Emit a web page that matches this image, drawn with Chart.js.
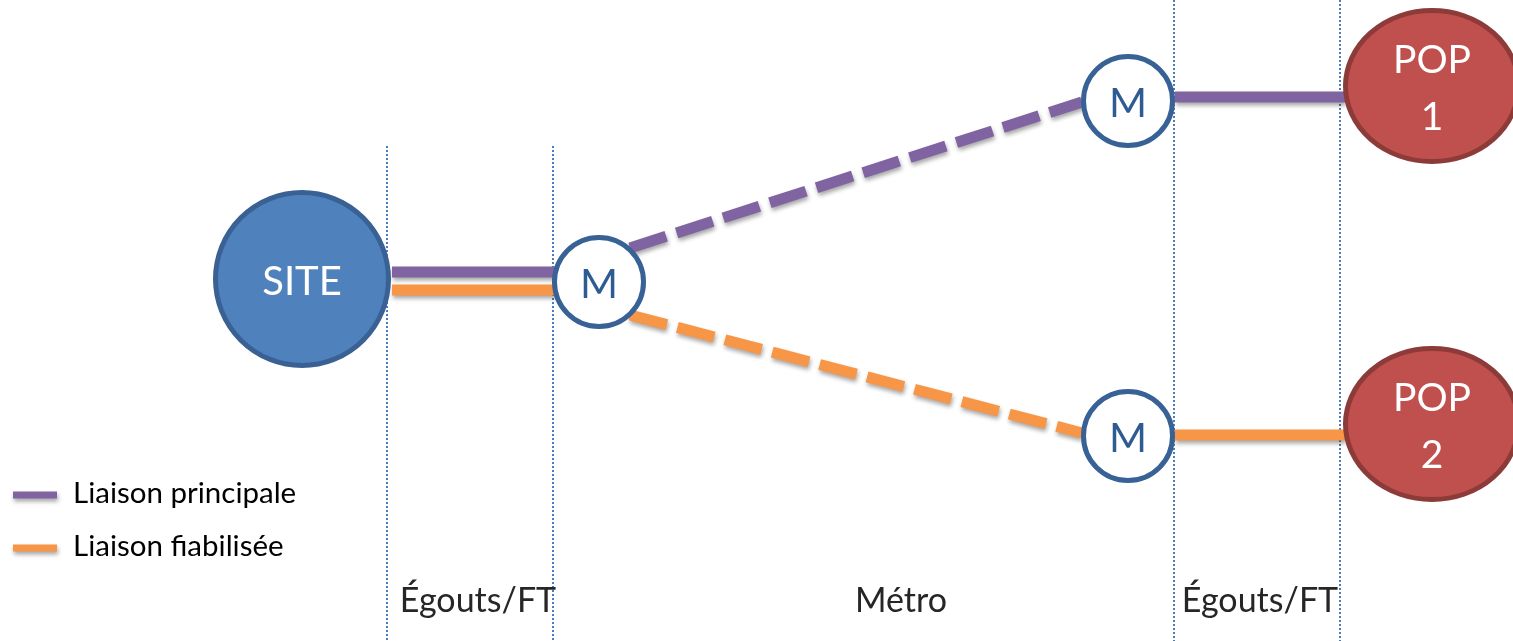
<!DOCTYPE html>
<html>
<head>
<meta charset="utf-8">
<script src="https://cdn.jsdelivr.net/npm/chart.js@4.4.1/dist/chart.umd.min.js"></script>
<style>
    html, body { margin: 0; padding: 0; background: #fff; overflow: hidden; }
    #wrap { width: 1513px; height: 641px; }
</style>
</head>
<body>
<div id="wrap"><canvas id="myChart" width="1513" height="641"></canvas></div>
<script>
// sections along the route (bottom labels) and their borders
const sectionLabels = ['Égouts/FT', 'Métro', 'Égouts/FT'];
const sectionCenterX = [478, 901, 1260];
const boundaryX = [387, 553, 1174, 1340];
const boundaryTopY = [146, 146, 0, 0];

// nodes
const siteX = [302];
const siteY = [279];
const siteLabels = ['SITE'];
const muxX = [599, 1128, 1128];
const muxY = [282, 101, 436];
const muxLabels = ['M', 'M', 'M'];
const popX = [1432, 1432];
const popY = [86, 424];
const popLabels = [['POP', '1'], ['POP', '2']];

// links (null = break between pieces)
const principalX = [392, 555, 630, 1082, 1175, 1345];
const principalY = [272, 272, null, 248, 102, null, 97, 97];
const fiabiliseeX = [392, 555, 630, 1082, 1175, 1345];
const fiabiliseeY = [290, 290, null, 315, 433, null, 435, 435];
const seriesLabels = ['Liaison principale', 'Liaison fiabilisée'];
const seriesColors = ['#8064a2', '#f79646'];

const FONT = 'Lato, "Noto Sans", sans-serif';

makePath = (xs, ys) => {
    let pts = [];
    let i = 0;
    ys.forEach((y) => {
        if (y === null) {
            pts.push({x: xs[Math.max(i - 1, 0)] + 1, y: null});
        } else {
            pts.push({x: xs[i], y: y});
            i++;
        }
    });
    return pts;
};

// dashed where the link runs through the Métro section
inMetro = (ctx) => {
    return ctx.p0.parsed.x >= boundaryX[1] && ctx.p1.parsed.x <= boundaryX[2] ? [38, 11] : undefined;
};

makeEllipse = (rx, ry, fill, stroke, bw) => {
    const c = document.createElement('canvas');
    c.width = rx * 2;
    c.height = ry * 2;
    const g = c.getContext('2d');
    g.beginPath();
    g.ellipse(rx, ry, rx - bw / 2, ry - bw / 2, 0, 0, Math.PI * 2);
    g.fillStyle = fill;
    g.fill();
    g.lineWidth = bw;
    g.strokeStyle = stroke;
    g.stroke();
    return c;
};

let datasets = [];

datasets.push({
    label: 'site',
    data: siteX.map((x, i) => ({x: x, y: siteY[i]})),
    pointRadius: 86.5,
    pointBackgroundColor: '#4f81bd',
    pointBorderColor: '#3a6194',
    pointBorderWidth: 5,
    clip: false,
    order: 0
});
datasets.push({
    label: 'mux',
    data: muxX.map((x, i) => ({x: x, y: muxY[i]})),
    pointRadius: 44.5,
    pointBackgroundColor: '#ffffff',
    pointBorderColor: '#386295',
    pointBorderWidth: 5,
    clip: false,
    order: 0
});
datasets.push({
    label: 'pop',
    data: popX.map((x, i) => ({x: x, y: popY[i]})),
    pointStyle: makeEllipse(89, 78, '#c0504d', '#8c3b39', 5),
    clip: false,
    order: 0
});

[[principalX, principalY], [fiabiliseeX, fiabiliseeY]].forEach((s, idx) => {
    datasets.push({
        label: seriesLabels[idx],
        data: makePath(s[0], s[1]),
        showLine: true,
        spanGaps: false,
        borderColor: seriesColors[idx],
        borderWidth: 11,
        borderCapStyle: 'butt',
        pointRadius: 0,
        segment: { borderDash: inMetro },
        shadow: true,
        clip: false,
        order: 1
    });
});

boundaryX.forEach((bx, i) => {
    datasets.push({
        label: 'border',
        data: [{x: bx, y: boundaryTopY[i]}, {x: bx, y: 641}],
        showLine: true,
        borderColor: '#4a7ebb',
        borderWidth: 2,
        borderDash: [2, 2],
        pointRadius: 0,
        clip: false,
        order: 2
    });
});

const shadowPlugin = {
    id: 'shadow',
    beforeDatasetDraw(chart, args) {
        if (!chart.data.datasets[args.index].shadow) return;
        const ctx = chart.ctx;
        ctx.save();
        ctx.shadowColor = 'rgba(0,0,0,0.35)';
        ctx.shadowBlur = 4;
        ctx.shadowOffsetX = 1;
        ctx.shadowOffsetY = 3;
    },
    afterDatasetDraw(chart, args) {
        if (chart.data.datasets[args.index].shadow) chart.ctx.restore();
    }
};

const textPlugin = {
    id: 'texts',
    afterDatasetsDraw(chart) {
        const ctx = chart.ctx;
        const sx = chart.scales.x, sy = chart.scales.y;
        ctx.save();
        ctx.textAlign = 'center';
        ctx.textBaseline = 'alphabetic';

        ctx.fillStyle = '#ffffff';
        ctx.font = '40px ' + FONT;
        siteLabels.forEach((t, i) => {
            ctx.fillText(t, sx.getPixelForValue(siteX[i]), sy.getPixelForValue(siteY[i]) + 16);
        });

        ctx.fillStyle = '#2f5b93';
        ctx.font = '41px ' + FONT;
        muxLabels.forEach((t, i) => {
            ctx.fillText(t, sx.getPixelForValue(muxX[i]), sy.getPixelForValue(muxY[i]) + 16);
        });

        ctx.fillStyle = '#ffffff';
        ctx.font = '39px ' + FONT;
        popLabels.forEach((lines, i) => {
            const x = sx.getPixelForValue(popX[i]);
            const y = sy.getPixelForValue(popY[i]);
            ctx.fillText(lines[0], x, y - 13);
            ctx.fillText(lines[1], x, y + 44);
        });

        ctx.fillStyle = '#262626';
        ctx.font = '34px ' + FONT;
        sectionLabels.forEach((t, i) => {
            ctx.fillText(t, sx.getPixelForValue(sectionCenterX[i]), 612);
        });

        // legend
        ctx.textAlign = 'left';
        ctx.font = '29.5px ' + FONT;
        seriesLabels.forEach((t, i) => {
            const y = 495 + i * 53;
            ctx.save();
            ctx.shadowColor = 'rgba(0,0,0,0.35)';
            ctx.shadowBlur = 4;
            ctx.shadowOffsetX = 1;
            ctx.shadowOffsetY = 3;
            ctx.strokeStyle = seriesColors[i];
            ctx.lineWidth = 7;
            ctx.beginPath();
            ctx.moveTo(13, y);
            ctx.lineTo(57, y);
            ctx.stroke();
            ctx.restore();
            ctx.fillStyle = '#000000';
            ctx.fillText(t, 73, y + 8);
        });
        ctx.restore();
    }
};

const ctx = document.getElementById('myChart').getContext('2d');
const myChart = new Chart(ctx, {
    type: 'scatter',
    data: { datasets: datasets },
    options: {
        responsive: false,
        animation: false,
        events: [],
        layout: { padding: 0, autoPadding: false },
        clip: false,
        plugins: {
            legend: { display: false },
            tooltip: { enabled: false }
        },
        scales: {
            x: { type: 'linear', min: 0, max: 1513, display: false },
            y: { type: 'linear', min: 0, max: 641, reverse: true, display: false }
        }
    },
    plugins: [shadowPlugin, textPlugin]
});
</script>
</body>
</html>
